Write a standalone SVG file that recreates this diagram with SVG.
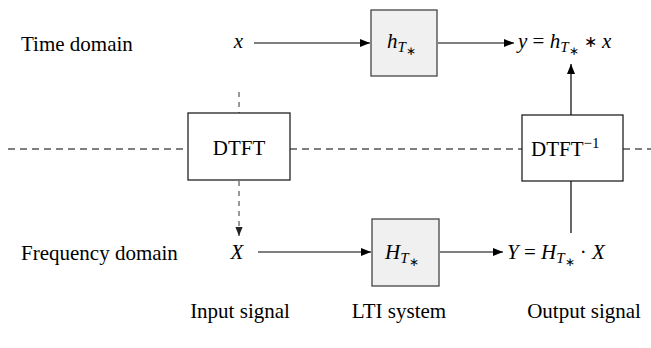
<svg xmlns="http://www.w3.org/2000/svg" width="651" height="348" viewBox="0 0 651 348">
  <defs>
    <marker id="arr" viewBox="0 0 10 8" refX="10" refY="4" markerWidth="10" markerHeight="8" markerUnits="userSpaceOnUse" orient="auto">
      <path d="M0,0 L10,4 L0,8 z" fill="#000"/>
    </marker>
    <marker id="arrg" viewBox="0 0 10 8" refX="10" refY="4" markerWidth="9" markerHeight="8" markerUnits="userSpaceOnUse" orient="auto">
      <path d="M0,0 L10,4 L0,8 z" fill="#222"/>
    </marker>
  </defs>
  <style>
    .t { font-family: 'Liberation Serif', serif !important; font-size: 21px; fill: #000; }
    .it { font-style: italic; }
    .sub { font-style: italic; font-size: 15px; }
    .star { font-size: 12px; }
    .op { font-size: 16px; }
    .sup { font-size: 15px; }
    .sys { fill: #f0f0f0; stroke: #444; stroke-width: 1.3; }
    .tf { fill: #fff; stroke: #222; stroke-width: 1.3; }
    .wire { fill: none; stroke: #000; stroke-width: 1.2; }
    .dashv { fill: none; stroke: #555; stroke-width: 1.2; stroke-dasharray: 5 5; }
    .dashh { fill: none; stroke: #000; stroke-width: 1.1; stroke-dasharray: 7 5; }
  </style>

  <!-- row and column captions -->
  <g id="captions">
    <text class="t" style="font-family:'Liberation Serif'" x="21" y="51">Time domain</text>
    <text class="t" style="font-family:'Liberation Serif'" x="21" y="260">Frequency domain</text>
    <text class="t" style="font-family:'Liberation Serif'" x="240" y="318" text-anchor="middle">Input signal</text>
    <text class="t" style="font-family:'Liberation Serif'" x="399" y="318" text-anchor="middle">LTI system</text>
    <text class="t" style="font-family:'Liberation Serif'" x="584" y="318" text-anchor="middle">Output signal</text>
  </g>

  <!-- connectors -->
  <g id="connectors">
    <line class="dashh" x1="8" y1="149" x2="188" y2="149"/>
    <line class="dashh" x1="290" y1="149" x2="522" y2="149"/>
    <line class="dashh" x1="623" y1="149" x2="651" y2="149"/>
    <line class="dashv" x1="239" y1="92" x2="239" y2="113"/>
    <line class="dashv" x1="239" y1="181" x2="239" y2="236" marker-end="url(#arrg)"/>
    <line class="wire" x1="254" y1="43" x2="370" y2="43" marker-end="url(#arr)"/>
    <line class="wire" x1="438" y1="43" x2="514" y2="43" marker-end="url(#arr)"/>
    <line class="wire" x1="258" y1="252" x2="371" y2="252" marker-end="url(#arr)"/>
    <line class="wire" x1="440" y1="252" x2="503" y2="252" marker-end="url(#arr)"/>
    <line class="wire" x1="571" y1="115" x2="571" y2="64" marker-end="url(#arr)"/>
    <line class="wire" x1="571" y1="181" x2="571" y2="233"/>
  </g>

  <!-- signals -->
  <g id="x-time"><text class="t it" style="font-family:'Liberation Serif'" x="238.5" y="48" text-anchor="middle">x</text></g>
  <g id="X-freq"><text class="t it" style="font-family:'Liberation Serif'" x="237" y="259" text-anchor="middle">X</text></g>
  <g id="y-time">
    <text class="t" style="font-family:'Liberation Serif'" x="518" y="48"><tspan class="it">y</tspan> = <tspan class="it">h</tspan><tspan class="sub" dy="4">T</tspan><tspan class="star" dy="3">∗</tspan><tspan dy="-7"> </tspan><tspan class="op" dy="-1">∗</tspan><tspan dy="1"> </tspan><tspan class="it">x</tspan></text>
  </g>
  <g id="Y-freq">
    <text class="t" style="font-family:'Liberation Serif'" x="507" y="259"><tspan class="it">Y</tspan> = <tspan class="it">H</tspan><tspan class="sub" dy="4">T</tspan><tspan class="star" dy="3">∗</tspan><tspan dy="-7"> · </tspan><tspan class="it">X</tspan></text>
  </g>

  <!-- systems -->
  <g id="h-box">
    <rect class="sys" x="371" y="10" width="66" height="66"/>
    <text class="t" style="font-family:'Liberation Serif'" x="387" y="48"><tspan class="it">h</tspan><tspan class="sub" dy="4">T</tspan><tspan class="star" dy="3">∗</tspan></text>
  </g>
  <g id="H-box">
    <rect class="sys" x="372" y="219" width="67" height="67"/>
    <text class="t" style="font-family:'Liberation Serif'" x="385" y="259"><tspan class="it">H</tspan><tspan class="sub" dy="4">T</tspan><tspan class="star" dy="3">∗</tspan></text>
  </g>
  <g id="dtft">
    <rect class="tf" x="188" y="113" width="102" height="67"/>
    <text class="t" style="font-family:'Liberation Serif'" x="239" y="155" text-anchor="middle">DTFT</text>
  </g>
  <g id="idtft">
    <rect class="tf" x="522" y="115" width="101" height="66"/>
    <text class="t" style="font-family:'Liberation Serif'" x="531" y="156">DTFT<tspan class="sup" dy="-8">−1</tspan></text>
  </g>
</svg>
